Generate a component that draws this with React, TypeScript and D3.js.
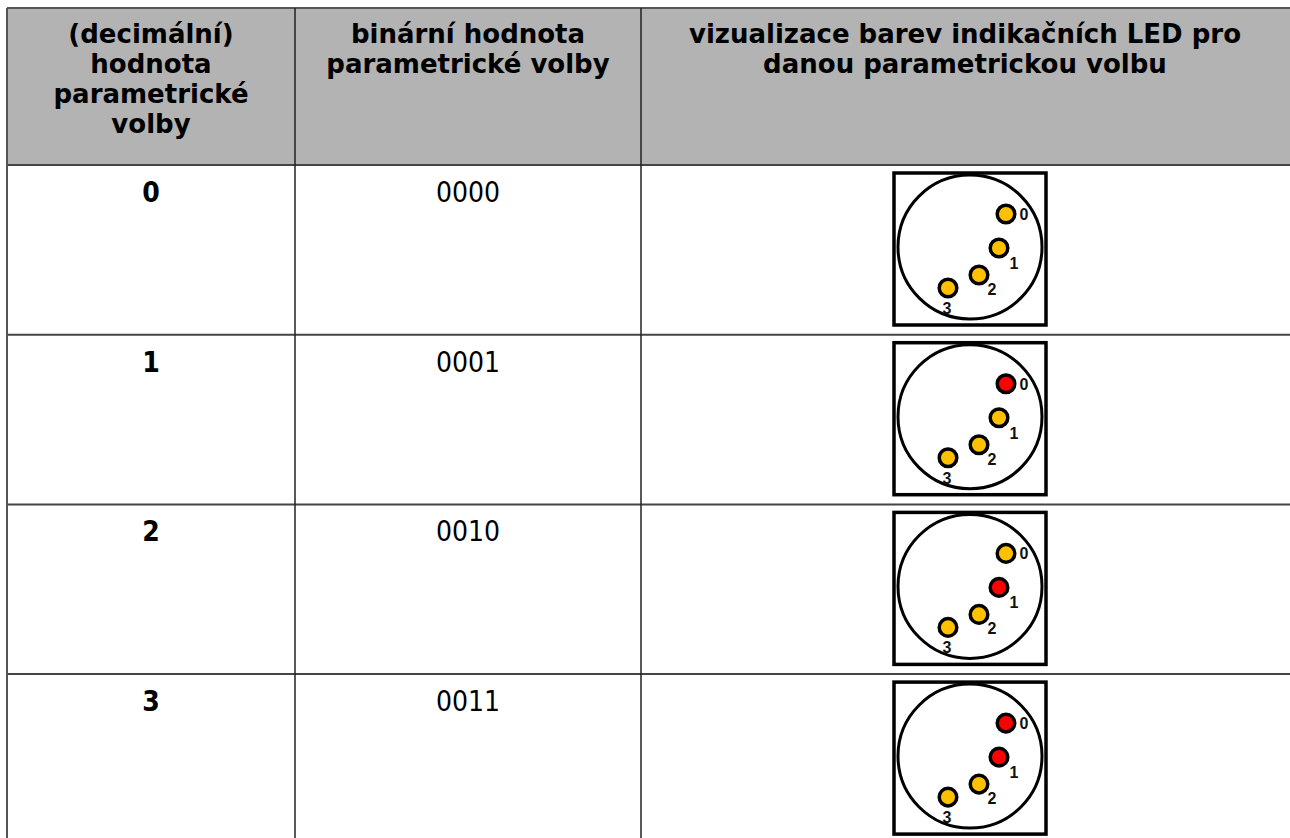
import * as d3 from "d3";

// table content
const headers: string[][] = [
  ["(decimální)", "hodnota", "parametrické", "volby"],
  ["binární hodnota", "parametrické volby"],
  ["vizualizace barev indikačních LED pro", "danou parametrickou volbu"],
];
const decimalValues = [0, 1, 2, 3];
const binaryValues = ["0000", "0001", "0010", "0011"];
const ledBits = [0, 1, 2, 3];

const W = 1290;
const H = 838;
const colEdges = [7, 295, 641, 1300];
const tableTop = 8;
const headerBottom = 165;
const rowH = 169.7;

const ON = "#ff0000";
const OFF = "#ffc000";

// LED offsets relative to the diagram centre
const ledPos: Record<number, [number, number]> = {
  0: [36, -35],
  1: [29, -1],
  2: [9, 26],
  3: [-22, 39],
};
const ledLabel: Record<number, [number, number]> = {
  0: [54, -29],
  1: [44, 20],
  2: [22, 46],
  3: [-23, 65],
};

function Diagram({ value, cx, top }: { value: number; cx: number; top: number }) {
  const cy = top + 84;
  return (
    <g>
      <rect x={cx - 76} y={top + 8} width={152} height={152} fill="#fff" stroke="#000" strokeWidth={3.5} />
      <circle cx={cx} cy={cy - 2} r={72} fill="#fff" stroke="#000" strokeWidth={3} />
      {ledBits.map((b) => {
        const on = ((value >> b) & 1) === 1;
        const [dx, dy] = ledPos[b];
        const [lx, ly] = ledLabel[b];
        return (
          <g key={b}>
            <circle cx={cx + dx} cy={cy + dy} r={8.8} fill={on ? ON : OFF} stroke="#000" strokeWidth={3.5} />
            <text
              x={cx + lx}
              y={cy + ly}
              textAnchor="middle"
              style={{ fontFamily: "'Liberation Sans', Arial, sans-serif", fontWeight: 700, fontSize: "16px" }}
              fill="#111"
            >
              {b}
            </text>
          </g>
        );
      })}
    </g>
  );
}

export default function App() {
  const y = d3
    .scaleLinear()
    .domain([0, 1])
    .range([headerBottom, headerBottom + rowH]);
  const colCenter = (i: number) => (colEdges[i] + colEdges[i + 1]) / 2;
  const rowsEnd = y(decimalValues.length);

  return (
    <svg
      width={W}
      height={H}
      style={{ position: "fixed", left: 0, top: 0, background: "#fff", display: "block" }}
    >
      <rect x={colEdges[0]} y={tableTop} width={colEdges[3] - colEdges[0]} height={headerBottom - tableTop} fill="#b3b3b3" />

      {headers.map((lines, ci) =>
        lines.map((t, li) => (
          <text
            key={`${ci}-${li}`}
            x={ci === 2 ? 965 : colCenter(ci)}
            y={43 + li * 30}
            textAnchor="middle"
            fontFamily="DejaVu Sans, Verdana, sans-serif"
            fontWeight="bold"
            fontSize={26}
            fill="#000"
          >
            {t}
          </text>
        ))
      )}

      {decimalValues.map((v, i) => (
        <g key={v}>
          <text
            x={colCenter(0)}
            y={y(i) + 37}
            textAnchor="middle"
            fontFamily="DejaVu Sans Condensed, DejaVu Sans, sans-serif"
            fontWeight="bold"
            fontSize={28}
            fill="#000"
          >
            {v}
          </text>
          <text
            x={colCenter(1)}
            y={y(i) + 37}
            textAnchor="middle"
            fontFamily="DejaVu Sans Condensed, DejaVu Sans, sans-serif"
            fontSize={28}
            fill="#000"
          >
            {binaryValues[i]}
          </text>
          <Diagram value={v} cx={970} top={y(i)} />
        </g>
      ))}

      {/* grid */}
      <line x1={colEdges[0]} x2={colEdges[3]} y1={tableTop} y2={tableTop} stroke="#555" strokeWidth={2} />
      {decimalValues.map((_, i) => (
        <line key={i} x1={colEdges[0]} x2={colEdges[3]} y1={y(i)} y2={y(i)} stroke="#444" strokeWidth={2} />
      ))}
      {colEdges.slice(0, 3).map((x, i) => (
        <line key={i} x1={x} x2={x} y1={tableTop} y2={rowsEnd} stroke={i === 0 ? "#555" : "#222"} strokeWidth={i === 0 ? 2 : 1.5} />
      ))}
    </svg>
  );
}
